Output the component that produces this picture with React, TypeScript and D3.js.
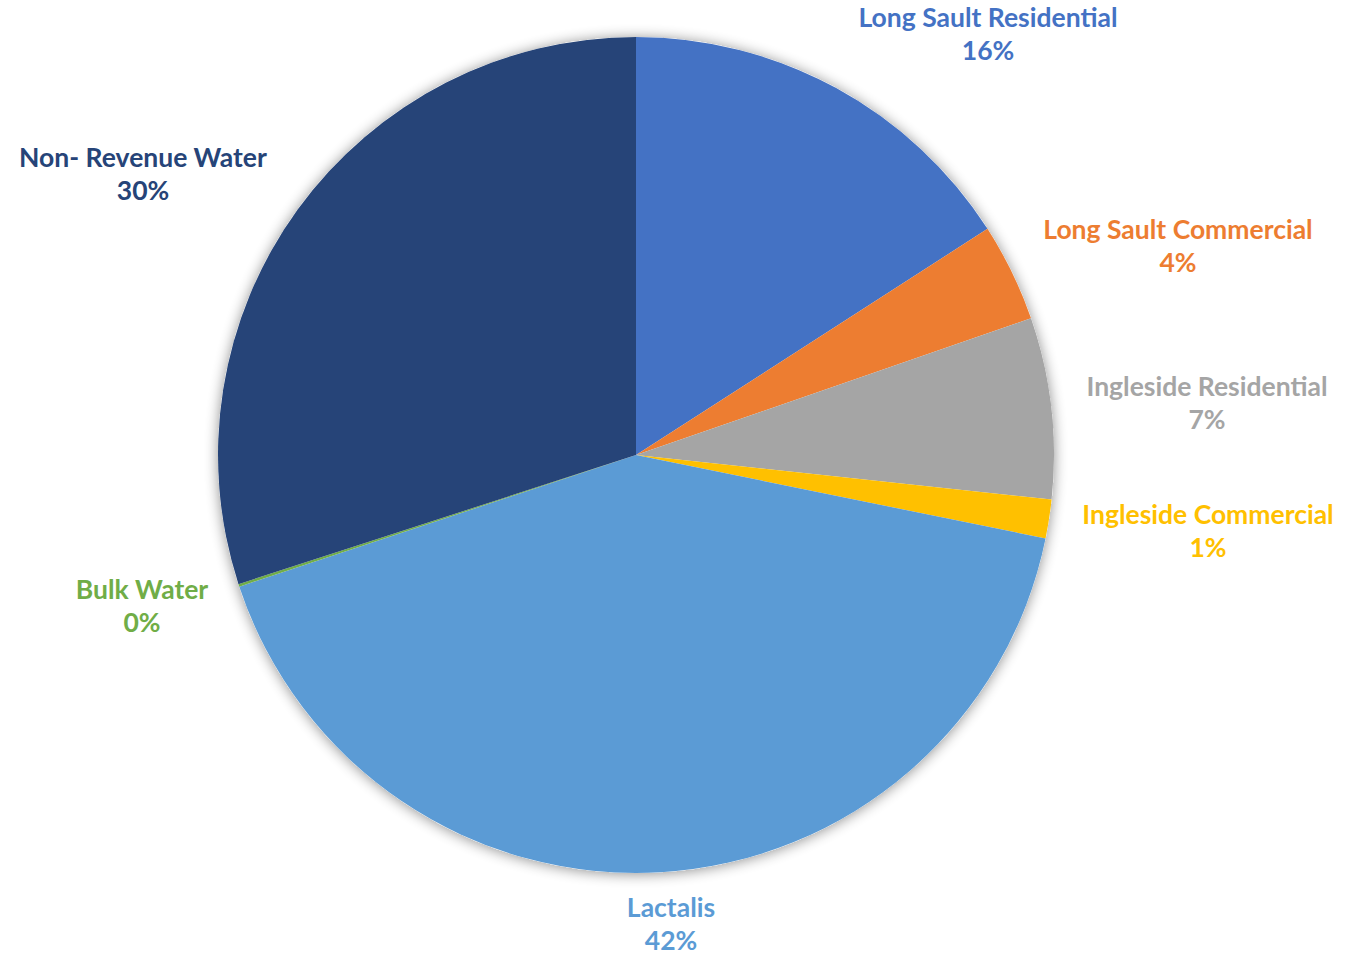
import React from "react";
import * as d3 from "d3";

const categories = [
  "Long Sault Residential",
  "Long Sault Commercial",
  "Ingleside Residential",
  "Ingleside Commercial",
  "Lactalis",
  "Bulk Water",
  "Non- Revenue Water",
];
const values = [15.9, 3.8, 7.0, 1.5, 41.7, 0.1, 30.0];
const percentLabels = ["16%", "4%", "7%", "1%", "42%", "0%", "30%"];
const colors = ["#4472C4", "#ED7D31", "#A5A5A5", "#FFC000", "#5B9BD5", "#70AD47", "#264478"];

// label layout (centers of the two-line labels)
const labelAnchors: [number, number][] = [
  [988, 17],
  [1178, 229],
  [1207, 386],
  [1208, 514],
  [671, 907],
  [142, 589],
  [143, 157],
];

const W = 1350;
const H = 957;
const cx = 636;
const cy = 455;
const R = 418;

export default function App() {
  const pie = d3
    .pie<number>()
    .sort(null)
    .value((d) => d)
    .startAngle(0)
    .endAngle(2 * Math.PI);
  const arcs = pie(values);
  const arc = d3.arc<d3.PieArcDatum<number>>().innerRadius(0).outerRadius(R);
  const fontSize = 26.5;
  return (
    <svg
      width={W}
      height={H}
      style={{ position: "absolute", left: 0, top: 0, background: "#fff" }}
      fontFamily="Lato, 'Open Sans', sans-serif"
    >
      <defs>
        <filter id="shadow" x="-20%" y="-20%" width="140%" height="140%">
          <feGaussianBlur in="SourceAlpha" stdDeviation="7" />
          <feOffset dx="0" dy="1" result="b" />
          <feComponentTransfer>
            <feFuncA type="linear" slope="0.45" />
          </feComponentTransfer>
          <feMerge>
            <feMergeNode />
            <feMergeNode in="SourceGraphic" />
          </feMerge>
        </filter>
      </defs>
      <g transform={`translate(${cx},${cy})`}>
        <circle r={R} fill="#fff" filter="url(#shadow)" />
        {arcs.map((a, i) => (
          <path key={i} d={arc(a) || ""} fill={colors[i]} />
        ))}
      </g>
      {categories.map((c, i) => {
        const [x, y] = labelAnchors[i];
        return (
          <text
            key={c}
            x={x}
            textAnchor="middle"
            fill={colors[i]}
            fontWeight="bold"
            fontSize={fontSize}
          >
            <tspan x={x} y={y} dominantBaseline="central">
              {c}
            </tspan>
            <tspan x={x} y={y + 33} dominantBaseline="central">
              {percentLabels[i]}
            </tspan>
          </text>
        );
      })}
    </svg>
  );
}
